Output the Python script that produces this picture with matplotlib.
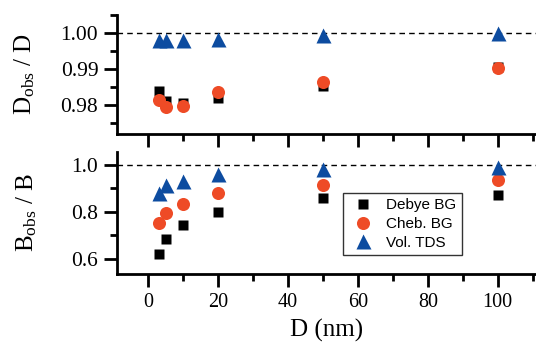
import matplotlib
matplotlib.use('Agg')
import matplotlib.pyplot as plt
from matplotlib.ticker import MultipleLocator

size_nm = [3, 5, 10, 20, 50, 100]

# D_obs / D
d_debye = [0.9840, 0.9812, 0.9805, 0.9820, 0.9852, 0.9906]
d_cheb = [0.9813, 0.9795, 0.9797, 0.9836, 0.9863, 0.9902]
d_tds = [0.9980, 0.9980, 0.9980, 0.9984, 0.9994, 0.9999]

# B_obs / B
b_debye = [0.621, 0.685, 0.745, 0.798, 0.858, 0.873]
b_cheb = [0.752, 0.797, 0.834, 0.882, 0.916, 0.936]
b_tds = [0.880, 0.915, 0.930, 0.960, 0.983, 0.992]

labels = ['Debye BG', 'Cheb. BG', 'Vol. TDS']
black = '#000000'
red = '#EE4B26'
blue = '#0D4CA0'

plt.rcParams['font.family'] = ['Liberation Serif', 'DejaVu Serif']
plt.rcParams['mathtext.fontset'] = 'custom'
plt.rcParams['mathtext.rm'] = 'Liberation Serif'
plt.rcParams['mathtext.it'] = 'Liberation Serif:italic'

fig = plt.figure(figsize=(5.36, 3.44), dpi=100)
ax1 = fig.add_axes([0.2183, 0.6105, 0.7817, 0.3459])
ax2 = fig.add_axes([0.2183, 0.2035, 0.7817, 0.3546])

for ax, ys in [(ax1, (d_debye, d_cheb, d_tds)), (ax2, (b_debye, b_cheb, b_tds))]:
    ax.axhline(1.0, color='black', ls=(0, (4, 3)), lw=1.0, zorder=1)
    ax.plot(size_nm, ys[0], 's', color=black, ms=7.9, mec='none', label=labels[0], zorder=3)
    ax.plot(size_nm, ys[1], 'o', color=red, ms=9.4, mec='none', label=labels[1], zorder=4)
    ax.plot(size_nm, ys[2], '^', color=blue, ms=10.8, mec='none', label=labels[2], zorder=5)
    ax.set_xlim(-9, 111)
    ax.spines['top'].set_visible(False)
    ax.spines['right'].set_visible(False)
    ax.spines['left'].set_linewidth(2)
    ax.spines['bottom'].set_linewidth(2)
    ax.xaxis.set_major_locator(MultipleLocator(20))
    ax.xaxis.set_minor_locator(MultipleLocator(10))
    ax.tick_params(which='major', direction='out', length=9.5, width=2, labelsize=14.5, pad=4)
    ax.tick_params(which='minor', direction='out', length=5, width=2)
    ax.tick_params(axis='y', which='major', labelsize=15.5)

ax1.set_ylim(0.972, 1.005)
ax1.yaxis.set_minor_locator(MultipleLocator(0.005))
ax1.set_yticks([0.98, 0.99, 1.00])
ax1.set_yticklabels(['0.98', '0.99', '1.00'])
ax1.tick_params(axis='x', labelbottom=False)
ax1.set_ylabel(r'D$_{\mathrm{obs}}$ / D', fontsize=18, labelpad=17)

ax2.set_ylim(0.535, 1.055)
ax2.set_yticks([0.6, 0.8, 1.0])
ax2.set_yticklabels(['0.6', '0.8', '1.0'])
ax2.yaxis.set_minor_locator(MultipleLocator(0.1))
ax2.set_xticks([0, 20, 40, 60, 80, 100])
ax2.set_xlabel('D (nm)', fontsize=18, labelpad=5)
ax2.set_ylabel(r'B$_{\mathrm{obs}}$ / B', fontsize=18, labelpad=23)

leg = ax2.legend(loc='upper left', bbox_to_anchor=(0.539, 0.664), frameon=True, fancybox=False,
                 edgecolor='black', handletextpad=0.5, borderpad=0.35, borderaxespad=0,
                 labelspacing=0.3, prop={'family': 'Liberation Sans', 'size': 11})
leg.get_frame().set_linewidth(1.0)

fig.savefig('out.png', dpi=100)
